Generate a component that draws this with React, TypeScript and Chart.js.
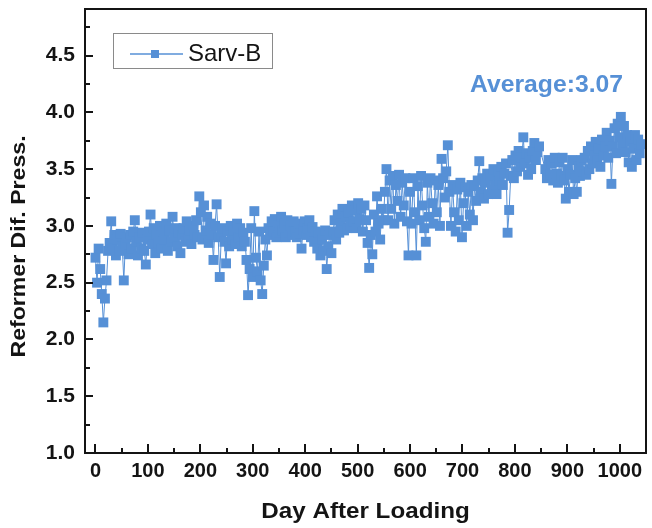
import React, { useEffect, useRef } from "react";
import { Chart, registerables } from "chart.js";

Chart.register(...registerables);

const days = [
  0, 3, 6, 9, 12, 15, 18, 21, 24,
  27, 30, 33, 36, 39, 42, 45, 48, 51, 54, 57, 60, 63, 66, 69, 72, 75, 78, 81, 84, 87, 90, 93, 96, 99,
  102, 105, 108, 111, 114, 117, 120, 123, 126, 129, 132, 135, 138, 141, 144, 147, 150, 153, 156, 159, 162, 165, 168, 171, 174, 177, 180, 183, 186, 189,
  192, 195, 198, 201, 204, 207, 210, 213, 216, 219, 222, 225, 228, 231, 234, 237, 240, 243,
  246, 249, 252, 255, 258, 261, 264, 267, 270, 273, 276, 279, 282, 285,
  288, 291, 294, 297, 300, 303, 306, 309, 312, 315, 318, 321, 324, 327, 330,
  333, 336, 339, 342, 345, 348, 351, 354, 357, 360, 363, 366, 369, 372, 375, 378, 381, 384, 387, 390, 393, 396, 399, 402, 405, 408, 411, 414, 417, 420,
  423, 426, 429, 432, 435, 438, 441, 444, 447, 450,
  453, 456, 459, 462, 465, 468, 471, 474, 477, 480, 483, 486, 489, 492, 495, 498, 501, 504, 507, 510, 513,
  516, 519, 522, 525, 528, 531, 534, 537, 540, 543, 546, 549,
  552, 555, 558, 561, 564, 567, 570, 573, 576, 579, 582, 585, 588, 591, 594,
  597, 600, 603, 606, 609, 612, 615, 618, 621, 624, 627, 630, 633, 636, 639, 642, 645, 648, 651, 654, 657,
  660, 663, 666, 669, 672,
  675, 678, 681, 684, 687, 690, 693, 696, 699, 702, 705, 708, 711, 714, 717, 720,
  723, 726, 729, 732, 735, 738, 741, 744, 747, 750, 753, 756, 759, 762, 765, 768, 771, 774, 777, 780, 783, 786, 789, 792,
  795, 798, 801, 804, 807, 810, 813, 816, 819, 822, 825, 828, 831, 834, 837, 840, 843, 846,
  858, 861, 864, 867, 870, 873, 876, 879, 882, 885, 888, 891, 894, 897, 900, 903, 906, 909, 912, 915, 918, 921, 924, 927, 930,
  933, 936, 939, 942, 945, 948, 951, 954, 957, 960, 963, 966, 969, 972,
  975, 978, 981, 984, 987, 990, 993, 996, 999, 1002, 1005, 1008, 1011, 1014, 1017, 1020, 1023, 1026, 1029, 1032, 1035, 1038, 1041,
];

const pressure = [
  2.72, 2.5, 2.8, 2.62, 2.4, 2.15, 2.36, 2.52, 2.78,
  2.85, 3.04, 2.8, 2.92, 2.74, 2.88, 2.78, 2.93, 2.82, 2.52, 2.84, 2.9, 2.75, 2.92, 2.8, 2.95, 3.05, 2.86, 2.74, 2.9, 2.8, 2.94, 2.78, 2.66, 2.88,
  2.95, 3.1, 2.84, 2.98, 2.76, 2.92, 2.85, 3.0, 2.8, 2.95, 2.88, 3.02, 2.78, 2.96, 2.86, 3.08, 2.9, 2.98, 2.82, 2.94, 2.76, 2.92, 2.98, 2.86, 3.04, 2.9, 2.96, 2.84, 3.0, 2.92,
  3.05, 2.9, 3.26, 3.12, 2.88, 3.18, 2.96, 3.08, 2.85, 3.02, 2.92, 2.7, 3.0, 3.19, 2.9, 2.55, 2.92, 2.98,
  2.86, 2.67, 2.95, 2.82, 3.0, 2.88, 2.96, 2.84, 3.02, 2.9, 2.98, 2.82, 2.94, 2.86,
  2.7, 2.39, 2.62, 2.98, 2.55, 3.13, 2.72, 2.6, 2.95, 2.52, 2.4, 2.65, 2.88, 2.74, 2.98,
  2.92, 3.04, 2.95, 3.06, 2.9, 3.0, 2.94, 3.08, 2.96, 3.02, 2.9, 3.05, 2.94, 3.0, 2.92, 3.04, 2.95, 2.9, 3.02, 2.93, 2.8, 2.97, 3.04, 2.92, 2.98, 3.05, 2.9, 2.99, 2.86, 2.95,
  2.8, 2.94, 2.74, 2.88, 2.78, 2.96, 2.62, 2.82, 2.92, 2.76,
  2.95, 3.05, 2.88, 3.1, 2.94, 3.02, 3.15, 2.96, 3.08, 2.98, 3.12, 3.0, 3.18, 3.04, 3.14, 2.98, 3.2, 3.06, 3.15, 2.95, 3.18,
  3.05, 2.85, 2.63, 2.92, 2.75, 3.1, 2.95, 3.26, 3.02, 2.88, 3.15, 3.05,
  3.3, 3.5, 3.05, 3.4, 3.15, 3.44, 3.02, 3.36, 3.22, 3.45, 3.08, 3.38, 3.18, 3.42, 3.04,
  2.74, 3.3, 3.02, 3.42, 3.12, 2.74, 3.35, 3.05, 3.44, 3.18, 2.98, 2.86, 3.38, 3.08, 3.42, 3.2, 3.02, 3.4, 3.12, 3.36, 3.0,
  3.59, 3.42, 3.25, 3.48, 3.71,
  3.3, 3.0, 3.36, 3.12, 2.95, 3.32, 3.05, 3.38, 2.9, 3.2, 3.34, 3.0, 3.3, 3.1, 3.36, 3.05,
  3.35, 3.22, 3.4, 3.57, 3.3, 3.42, 3.24, 3.38, 3.46, 3.28, 3.44, 3.32, 3.5, 3.36, 3.28, 3.48, 3.4, 3.52, 3.36, 3.46, 3.55, 2.94, 3.14, 3.44,
  3.58, 3.42, 3.62, 3.48, 3.66, 3.52, 3.6, 3.78, 3.55, 3.64, 3.45, 3.6, 3.5, 3.66, 3.73, 3.58, 3.65, 3.7,
  3.5, 3.42, 3.58, 3.45, 3.55, 3.4, 3.6, 3.46, 3.38, 3.56, 3.44, 3.6, 3.4, 3.24, 3.5, 3.3, 3.45, 3.58, 3.28, 3.42, 3.3, 3.52, 3.44, 3.58, 3.48,
  3.6, 3.45, 3.66, 3.5, 3.7, 3.55, 3.62, 3.74, 3.58, 3.68, 3.52, 3.76, 3.62, 3.7,
  3.82, 3.6, 3.75, 3.37, 3.7, 3.86, 3.64, 3.9, 3.78, 3.96, 3.72, 3.88, 3.65, 3.8, 3.56, 3.74, 3.52, 3.68, 3.8, 3.58, 3.76, 3.64, 3.72,
];

const xTickValues = [0, 100, 200, 300, 400, 500, 600, 700, 800, 900, 1000];
const yTickValues = [1.0, 1.5, 2.0, 2.5, 3.0, 3.5, 4.0, 4.5];
const seriesName = "Sarv-B";
const averageLabel = "Average:3.07";
const xTitle = "Day After Loading";
const yTitle = "Reformer Dif. Press.";

const BLUE = "#5690d6";
const INK = "#141414";
const FONT = "'Liberation Sans', Arial, sans-serif";

const framePlugin = {
  id: "frameDecor",
  afterDraw(chart: any) {
    const { ctx, chartArea: a } = chart;
    const xs = chart.scales.x;
    const ys = chart.scales.y;
    ctx.save();
    ctx.strokeStyle = INK;
    ctx.lineWidth = 2;
    for (const v of xTickValues) {
      const px = Math.round(xs.getPixelForValue(v));
      ctx.beginPath(); ctx.moveTo(px, a.bottom); ctx.lineTo(px, a.bottom - 9); ctx.stroke();
      const m = v + 50;
      if (m < xs.max && m > xs.min) {
        const pm = Math.round(xs.getPixelForValue(m));
        ctx.beginPath(); ctx.moveTo(pm, a.bottom); ctx.lineTo(pm, a.bottom - 5); ctx.stroke();
      }
    }
    for (const v of yTickValues) {
      const py = Math.round(ys.getPixelForValue(v));
      ctx.beginPath(); ctx.moveTo(a.left, py); ctx.lineTo(a.left + 8, py); ctx.stroke();
      const m = v + 0.25;
      if (m < ys.max) {
        const pm = Math.round(ys.getPixelForValue(m));
        ctx.beginPath(); ctx.moveTo(a.left, pm); ctx.lineTo(a.left + 5, pm); ctx.stroke();
      }
    }
    ctx.lineWidth = 2;
    ctx.strokeRect(a.left, a.top, a.right - a.left, a.bottom - a.top);

    // legend
    const lx = a.left + 28, ly = a.top + 24;
    ctx.lineWidth = 1;
    ctx.strokeStyle = "#8a8a8a";
    ctx.strokeRect(lx + 0.5, ly + 0.5, 159, 35);
    ctx.strokeStyle = BLUE;
    ctx.lineWidth = 1.5;
    ctx.beginPath(); ctx.moveTo(lx + 17, ly + 21); ctx.lineTo(lx + 70, ly + 21); ctx.stroke();
    ctx.fillStyle = BLUE;
    ctx.fillRect(lx + 38, ly + 17, 8, 8);
    ctx.fillStyle = INK;
    ctx.font = `24px ${FONT}`;
    ctx.textAlign = "left";
    ctx.textBaseline = "middle";
    ctx.fillText(seriesName, lx + 75, ly + 21);

    // average annotation
    ctx.fillStyle = BLUE;
    ctx.font = `bold 24px ${FONT}`;
    ctx.save();
    ctx.translate(a.left + 385, a.top + 76);
    ctx.scale(1.03, 1);
    ctx.fillText(averageLabel, 0, 0);
    ctx.restore();

    // x title
    ctx.save();
    ctx.translate((a.left + a.right) / 2, 512);
    ctx.scale(1.1, 1);
    ctx.fillStyle = INK;
    ctx.font = `bold 22px ${FONT}`;
    ctx.textAlign = "center";
    ctx.textBaseline = "middle";
    ctx.fillText(xTitle, 0, 0);
    ctx.restore();

    // y title
    ctx.save();
    ctx.translate(19, (a.top + a.bottom) / 2 + 15.5);
    ctx.rotate(-Math.PI / 2);
    ctx.scale(1.1, 1);
    ctx.fillStyle = INK;
    ctx.font = `bold 21px ${FONT}`;
    ctx.textAlign = "center";
    ctx.textBaseline = "middle";
    ctx.fillText(yTitle, 0, 0);
    ctx.restore();

    ctx.restore();
  },
};

export default function App() {
  const ref = useRef<HTMLCanvasElement | null>(null);
  useEffect(() => {
    if (!ref.current) return;
    const points = days.map((d, i) => ({ x: d, y: pressure[i] }));
    const chart = new Chart(ref.current, {
      type: "line",
      data: {
        datasets: [
          {
            label: seriesName,
            data: points,
            borderColor: BLUE,
            backgroundColor: BLUE,
            borderWidth: 1,
            pointStyle: "rect",
            pointRadius: 7,
            pointBorderWidth: 0,
            pointBackgroundColor: BLUE,
            tension: 0,
          },
        ],
      },
      options: {
        responsive: false,
        animation: false,
        layout: { autoPadding: false, padding: { left: 0, right: 6, top: 9, bottom: 0 } },
        plugins: { legend: { display: false }, tooltip: { enabled: false } },
        scales: {
          x: {
            type: "linear",
            min: -20,
            max: 1050,
            grid: { display: false, drawTicks: false },
            border: { display: false },
            afterBuildTicks: (s: any) => { s.ticks = xTickValues.map((v) => ({ value: v })); },
            afterFit: (s: any) => { s.height = 75; s.paddingLeft = 0; s.paddingRight = 0; },
            ticks: {
              padding: 6,
              color: INK,
              font: { family: FONT, size: 20, weight: "bold" },
              maxRotation: 0,
              autoSkip: false,
              callback: (v: any) => String(v),
            },
          },
          y: {
            type: "linear",
            min: 1.0,
            max: 4.91,
            grid: { display: false, drawTicks: false },
            border: { display: false },
            afterBuildTicks: (s: any) => { s.ticks = yTickValues.map((v) => ({ value: v })); },
            afterFit: (s: any) => { s.width = 85; s.paddingTop = 0; s.paddingBottom = 0; },
            ticks: {
              padding: 10,
              color: INK,
              font: { family: FONT, size: 21, weight: "bold" },
              autoSkip: false,
              callback: (v: any) => Number(v).toFixed(1),
            },
          },
        },
      },
      plugins: [framePlugin],
    });
    return () => chart.destroy();
  }, []);
  return (
    <div style={{ position: "absolute", left: 0, top: 0, width: 652, height: 528, background: "#fff" }}>
      <canvas ref={ref} width={652} height={528} />
    </div>
  );
}
